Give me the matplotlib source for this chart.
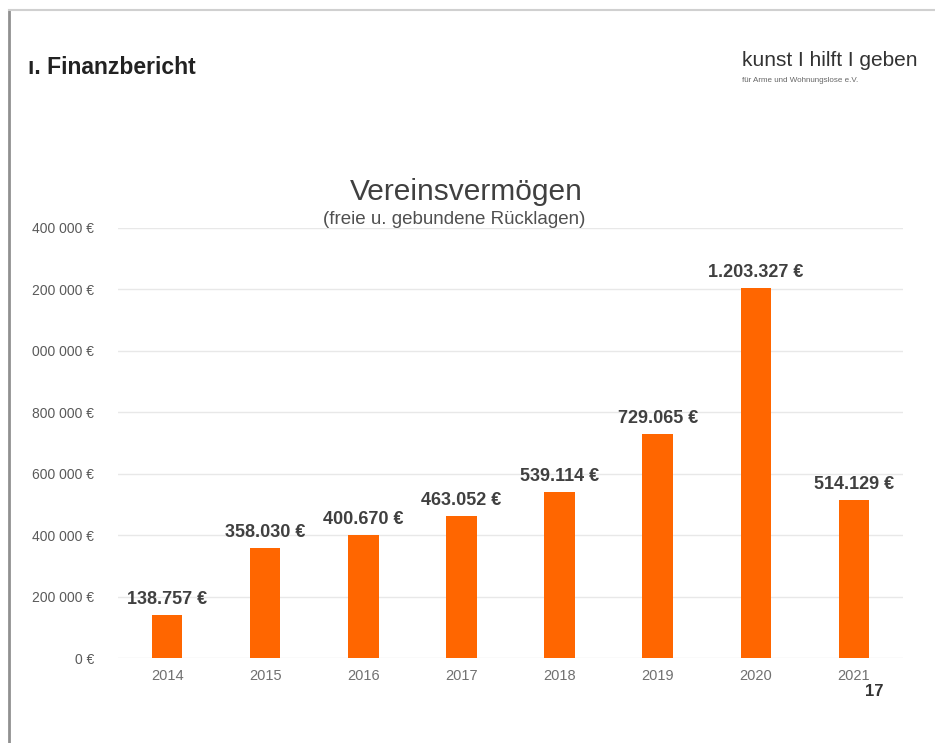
import matplotlib.pyplot as plt
from matplotlib.lines import Line2D

plt.rcParams['font.family'] = ['Liberation Sans', 'DejaVu Sans']

years = ["2014", "2015", "2016", "2017", "2018", "2019", "2020", "2021"]
values = [138757, 358030, 400670, 463052, 539114, 729065, 1203327, 514129]
value_labels = ["138.757 €", "358.030 €", "400.670 €", "463.052 €",
                "539.114 €", "729.065 €", "1.203.327 €", "514.129 €"]
y_ticks = [0, 200000, 400000, 600000, 800000, 1000000, 1200000, 1400000]
# left part of the larger labels is cut off in the screenshot
y_tick_labels = ["0 €", "200 000 €", "400 000 €", "600 000 €",
                 "800 000 €", "000 000 €", "200 000 €", "400 000 €"]

W, H = 935, 743
fig = plt.figure(figsize=(W / 100, H / 100), dpi=100)
ax = fig.add_axes([118 / W, 1 - 658 / H, 785 / W, 430 / H])

x = range(len(years))
bars = ax.bar(x, values, width=0.31, color="#ff6600", zorder=3)

for xi, v, lab in zip(x, values, value_labels):
    ax.annotate(lab, (xi, v), xytext=(0, 5), textcoords="offset points",
                ha="center", va="bottom", fontsize=13, fontweight="bold",
                color="#404040")

ax.set_xlim(-0.5, 7.5)
ax.set_ylim(0, 1400000)
ax.set_yticks(y_ticks)
ax.set_yticklabels(y_tick_labels)
ax.set_xticks(list(x))
ax.set_xticklabels(years)
ax.tick_params(axis="y", length=0, pad=17, labelsize=10, labelcolor="#5a5a5a")
ax.tick_params(axis="x", length=0, pad=8, labelsize=10.5, labelcolor="#707070")
ax.grid(axis="y", color="#e8e8e8", linewidth=1, zorder=0)
for s in ax.spines.values():
    s.set_visible(False)

fig.text(466 / W, 1 - 192 / H, "Vereinsvermögen", ha="center", va="center",
         fontsize=21.5, color="#404040")
fig.text(454 / W, 1 - 219 / H, "(freie u. gebundene Rücklagen)", ha="center",
         va="center", fontsize=13.5, color="#505050")

fig.text(28 / W, 1 - 68 / H, "ı. Finanzbericht", ha="left", va="center",
         fontsize=16.5, fontweight="bold", color="#222222")
fig.text(742 / W, 1 - 60 / H, "kunst I hilft I geben", ha="left", va="center",
         fontsize=15, color="#333333")
fig.text(742 / W, 1 - 80 / H, "für Arme und Wohnungslose e.V.", ha="left",
         va="center", fontsize=5.8, color="#666666")
fig.text(874 / W, 1 - 692 / H, "17", ha="center", va="center",
         fontsize=12, fontweight="bold", color="#333333")

# slide border
fig.add_artist(Line2D([9 / W, 9 / W], [0, 1 - 10 / H], color="#909090",
                      linewidth=2, transform=fig.transFigure))
fig.add_artist(Line2D([9 / W, 1], [1 - 10 / H, 1 - 10 / H], color="#d0d0d0",
                      linewidth=1.5, transform=fig.transFigure))

fig.savefig("out.png", dpi=100)
